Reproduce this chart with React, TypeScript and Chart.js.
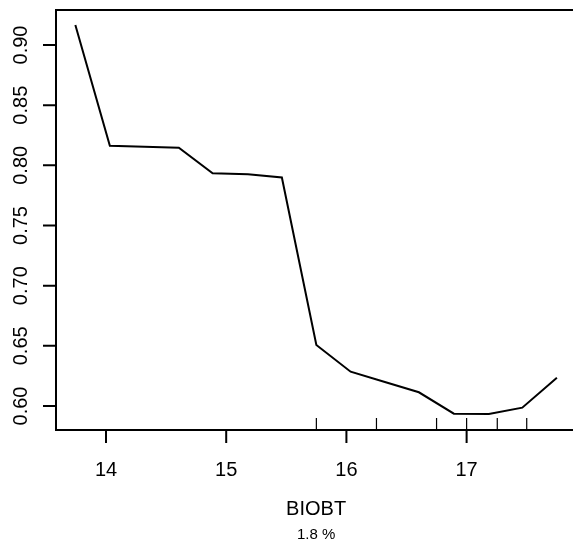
import { useEffect, useRef } from "react";
import { Chart, registerables } from "chart.js";

Chart.register(...registerables);

// Partial dependence of the response on BIOBT
const BIOBT = [13.745, 14.032, 14.319, 14.606, 14.887, 15.181, 15.463, 15.75, 16.035, 16.32, 16.603, 16.894, 17.185, 17.463, 17.751];
const RESPONSE = [0.9166, 0.8163, 0.8154, 0.8147, 0.7934, 0.7926, 0.7899, 0.6507, 0.6285, 0.6199, 0.6114, 0.5936, 0.5933, 0.5986, 0.6235];
// Rug marks (deciles of BIOBT)
const RUG = [15.75, 16.25, 16.75, 17.0, 17.255, 17.5];
const X_TICKS = [14, 15, 16, 17];
const X_TICK_LABELS = ["14", "15", "16", "17"];
const Y_TICKS = [0.6, 0.65, 0.7, 0.75, 0.8, 0.85, 0.9];
const Y_TICK_LABELS = ["0.60", "0.65", "0.70", "0.75", "0.80", "0.85", "0.90"];
const X_TITLE = "BIOBT";
const SUBTITLE = "1.8 %";

const FONT = '"Liberation Sans", Arial, Helvetica, sans-serif';

const rPlot = {
  id: "rPlot",
  afterDraw(chart: any) {
    const ctx = chart.ctx as CanvasRenderingContext2D;
    const { left, right, top, bottom } = chart.chartArea;
    const xs = chart.scales.x;
    const ys = chart.scales.y;
    ctx.save();
    ctx.strokeStyle = "#000";
    ctx.fillStyle = "#000";
    ctx.lineWidth = 2;
    // box (right side falls outside the canvas)
    ctx.beginPath();
    ctx.moveTo(right + 10, top);
    ctx.lineTo(left, top);
    ctx.lineTo(left, bottom);
    ctx.lineTo(right + 10, bottom);
    ctx.stroke();
    // x ticks
    ctx.beginPath();
    X_TICKS.forEach((v) => {
      const px = xs.getPixelForValue(v);
      ctx.moveTo(px, bottom);
      ctx.lineTo(px, bottom + 13);
    });
    // y ticks
    Y_TICKS.forEach((v) => {
      const py = ys.getPixelForValue(v);
      ctx.moveTo(left, py);
      ctx.lineTo(left - 13, py);
    });
    ctx.stroke();
    // rug
    ctx.lineWidth = 1.2;
    ctx.beginPath();
    RUG.forEach((v) => {
      const px = xs.getPixelForValue(v);
      ctx.moveTo(px, bottom);
      ctx.lineTo(px, bottom - 12);
    });
    ctx.stroke();
    // labels
    ctx.font = `20px ${FONT}`;
    ctx.textAlign = "center";
    ctx.textBaseline = "alphabetic";
    X_TICKS.forEach((v, i) => {
      ctx.fillText(X_TICK_LABELS[i], xs.getPixelForValue(v), bottom + 46);
    });
    Y_TICKS.forEach((v, i) => {
      ctx.save();
      ctx.translate(left - 29.5, ys.getPixelForValue(v));
      ctx.rotate(-Math.PI / 2);
      ctx.fillText(Y_TICK_LABELS[i], 0, 0);
      ctx.restore();
    });
    const mid = xs.getPixelForValue((BIOBT[0] + BIOBT[BIOBT.length - 1]) / 2);
    ctx.fillText(X_TITLE, mid, bottom + 85);
    ctx.font = `15px ${FONT}`;
    ctx.fillText(SUBTITLE, mid, bottom + 109);
    ctx.restore();
  },
};

export default function App() {
  const ref = useRef<HTMLCanvasElement | null>(null);
  useEffect(() => {
    if (!ref.current) return;
    const chart = new Chart(ref.current, {
      type: "line",
      data: {
        datasets: [
          {
            data: BIOBT.map((x, i) => ({ x, y: RESPONSE[i] })),
            borderColor: "#000",
            borderWidth: 2,
            pointRadius: 0,
            tension: 0,
            fill: false,
          },
        ],
      },
      options: {
        animation: false,
        responsive: false,
        devicePixelRatio: 1,
        layout: { padding: { left: 56, top: 10, right: 0, bottom: 115 } },
        scales: {
          x: { type: "linear", min: 13.584, max: 17.885, display: false },
          y: { type: "linear", min: 0.58005, max: 0.9291, display: false },
        },
        plugins: { legend: { display: false }, tooltip: { enabled: false } },
      },
      plugins: [rPlot],
    });
    return () => chart.destroy();
  }, []);
  return (
    <div style={{ position: "absolute", left: 0, top: 0, width: 573, height: 545, background: "#fff" }}>
      <canvas ref={ref} width={573} height={545} />
    </div>
  );
}
